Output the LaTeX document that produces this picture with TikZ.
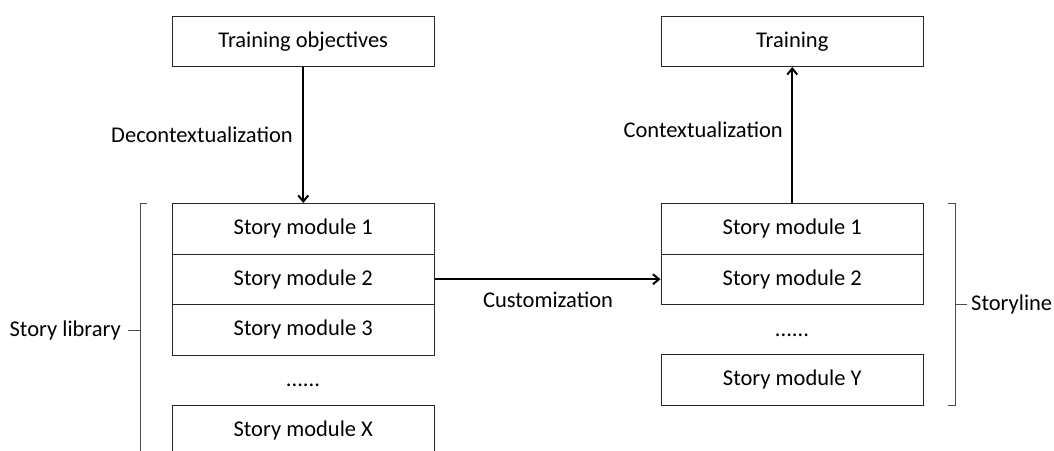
\documentclass[tikz,border=0pt]{standalone}
\usepackage{fontspec}
\setmainfont{Carlito}
\usetikzlibrary{arrows.meta}
\begin{document}
\begin{tikzpicture}[x=1pt,y=-1pt,
  box/.style={draw=black!85,line width=1pt,minimum width=262.5pt,minimum height=50.5pt,inner sep=0pt,font=\fontsize{22.5}{26}\selectfont,anchor=north west},
  lbl/.style={font=\fontsize{22.5}{26}\selectfont,inner sep=0pt},
  conn/.style={line width=2pt,-{Straight Barb[length=6pt,width=10pt,line width=2pt]}},
  brk/.style={draw=black!70,line width=1pt}]
\useasboundingbox (0,0) rectangle (1054,450);
\clip (0,0) rectangle (1054,450);
\node[box] (to) at (171.5,15.5) {Training objectives};
\node[box] (tr) at (660.5,15.5) {Training};
\node[box] (l1) at (171.5,203) {Story module 1};
\node[box] (l2) at (171.5,253.5) {Story module 2};
\node[box] (l3) at (171.5,304) {Story module 3};
\node[lbl] (ld) at (303,385) {......};
\node[box] (lx) at (171.5,405) {Story module X};
\node[box] (r1) at (660.5,203) {Story module 1};
\node[box] (r2) at (660.5,253.5) {Story module 2};
\node[lbl] (rd) at (792,335) {......};
\node[box] (ry) at (660.5,354) {Story module Y};
\draw[conn] (to.south) -- (l1.north);
\draw[conn] (r1.north) -- (tr.south);
\draw[conn] (l2.east) -- (r2.west);
\node[lbl,anchor=east] (dec) at (293,135) {Decontextualization};
\node[lbl,anchor=east] (con) at (783,130) {Contextualization};
\node[lbl] (cus) at (548,300) {Customization};
% left bracket
\coordinate (lbt) at (147,203);
\coordinate (lbb) at (147,457);
\coordinate (lbm) at (128,330);
\draw[brk] (lbt) -- (140,203) -- (140,457) -- (lbb);
\draw[brk] (140,330) -- (lbm);
\node[lbl,anchor=east] (sl) at (121,330) {Story library};
% right bracket
\coordinate (rbt) at (948,203);
\coordinate (rbb) at (948,405);
\coordinate (rbm) at (967,304);
\draw[brk] (rbt) -- (955,203) -- (955,405) -- (rbb);
\draw[brk] (955,304) -- (rbm);
\node[lbl,anchor=west] (sr) at (971,304) {Storyline};
\end{tikzpicture}
\end{document}
